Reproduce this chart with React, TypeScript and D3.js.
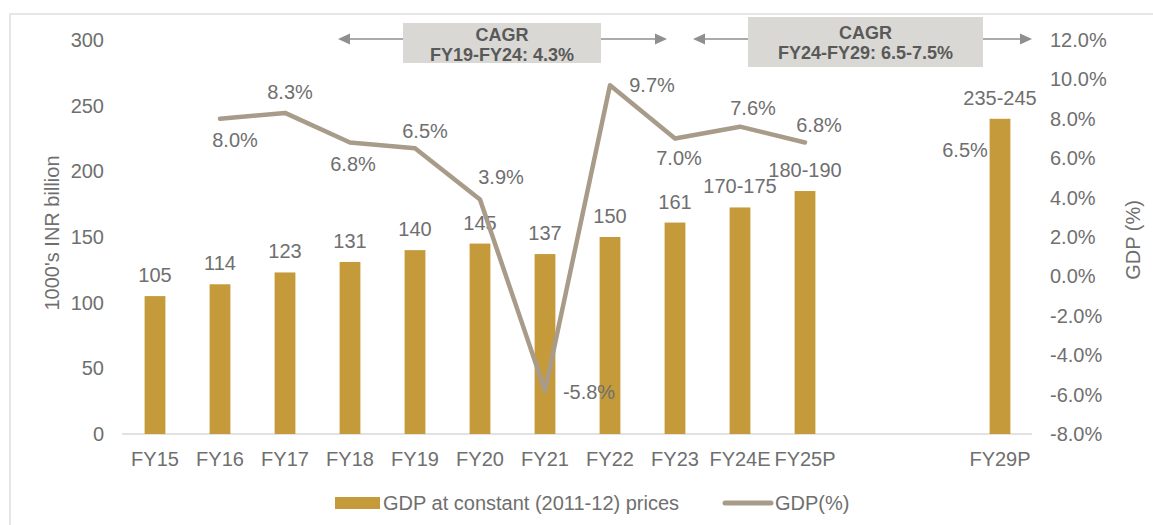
import React from "react";
import * as d3 from "d3";

// ---------- data ----------
const categories = ["FY15", "FY16", "FY17", "FY18", "FY19", "FY20", "FY21", "FY22", "FY23", "FY24E", "FY25P", "", "", "FY29P"];
const gdpValues: (number | null)[] = [105, 114, 123, 131, 140, 145, 137, 150, 161, 172.5, 185, null, null, 240];
const gdpLabels: string[] = ["105", "114", "123", "131", "140", "145", "137", "150", "161", "170-175", "180-190", "", "", "235-245"];
const growthValues: (number | null)[] = [null, 8.0, 8.3, 6.8, 6.5, 3.9, -5.8, 9.7, 7.0, 7.6, 6.8, null, null, 6.5];
const growthLabels: string[] = ["", "8.0%", "8.3%", "6.8%", "6.5%", "3.9%", "-5.8%", "9.7%", "7.0%", "7.6%", "6.8%", "", "", "6.5%"];
const leftTicks = [0, 50, 100, 150, 200, 250, 300];
const rightTicks = [-8, -6, -4, -2, 0, 2, 4, 6, 8, 10, 12];
const cagrNotes = [
  { title: "CAGR", text: "FY19-FY24: 4.3%" },
  { title: "CAGR", text: "FY24-FY29: 6.5-7.5%" },
];
const legendItems = ["GDP at constant (2011-12) prices", "GDP(%)"];

// ---------- layout / styles ----------
const W = 1153;
const H = 525;
const BAR = "#c59a3a";
const LINE = "#a89b89";
const TXT = "#6f6f6f";
const DARK = "#595959";
const FONT = "'Liberation Sans', Arial, sans-serif";
// label offsets (dx, dy) of growth labels relative to their point
const growthLabelOffsets: [number, number][] = [
  [0, 0], [15, 21], [5, -21], [3, 22], [10, -17], [21, -23], [44, 1], [42, 0], [4, 19], [13, -19], [14, -17], [0, 0], [0, 0], [-35, 2],
];
// CAGR annotation geometry
const notesGeom = [
  { x0: 338, x1: 667, bx0: 403, bx1: 601, by0: 23, by1: 63, t1: 35, t2: 55 },
  { x0: 693, x1: 1032, bx0: 748, bx1: 983, by0: 17, by1: 67, t1: 33, t2: 53 },
];

export default function App() {
  const idx = categories.map((_, i) => String(i));
  const x = d3.scaleBand<string>().domain(idx).range([122.5, 1032.5]).paddingInner(0.68).paddingOuter(0.34);
  const yL = d3.scaleLinear().domain([0, 300]).range([434, 40]);
  const yR = d3.scaleLinear().domain([-8, 12]).range([434, 40]);
  const cx = (i: number) => (x(String(i)) as number) + x.bandwidth() / 2;

  const linePts: [number, number][] = [];
  growthValues.forEach((v, i) => {
    if (v != null && i <= 10) linePts.push([cx(i), yR(v)]);
  });
  const linePath = d3.line()(linePts) || "";

  const arrowHead = (tipX: number, y: number, dir: number) => {
    const len = 12;
    const half = 5.5;
    return `M${tipX},${y} L${tipX - dir * len},${y - half} L${tipX - dir * len},${y + half} Z`;
  };

  return (
    <div style={{ position: "absolute", left: 0, top: 0 }}>
      <svg width={W} height={H} style={{ display: "block", fontFamily: FONT }}>
        <rect x={0} y={0} width={W} height={H} fill="#ffffff" />
        {/* frame */}
        <line x1={9} y1={14} x2={W} y2={14} stroke="#e6e6e6" strokeWidth={2} />
        <line x1={10} y1={14} x2={10} y2={H} stroke="#e6e6e6" strokeWidth={2} />

        {/* baseline */}
        <line x1={122} x2={1032} y1={yL(0)} y2={yL(0)} stroke="#d9d9d9" strokeWidth={1.5} />

        {/* bars */}
        {gdpValues.map((v, i) =>
          v == null ? null : (
            <rect key={"b" + i} x={x(String(i))} y={yL(v)} width={x.bandwidth()} height={yL(0) - yL(v)} fill={BAR} />
          )
        )}
        {gdpValues.map((v, i) =>
          v == null ? null : (
            <text key={"bl" + i} x={cx(i)} y={yL(v) - 21} textAnchor="middle" dominantBaseline="central" fontSize={20} fill={TXT}>
              {gdpLabels[i]}
            </text>
          )
        )}

        {/* line */}
        <path d={linePath} fill="none" stroke={LINE} strokeWidth={4.5} strokeLinejoin="round" strokeLinecap="round" />
        {growthValues.map((v, i) =>
          v == null ? null : (
            <text
              key={"gl" + i}
              x={cx(i) + growthLabelOffsets[i][0]}
              y={yR(v) + growthLabelOffsets[i][1]}
              textAnchor="middle"
              dominantBaseline="central"
              fontSize={20}
              fill={TXT}
            >
              {growthLabels[i]}
            </text>
          )
        )}

        {/* x axis labels */}
        {categories.map((c, i) => (
          <text key={"x" + i} x={cx(i)} y={459} textAnchor="middle" dominantBaseline="central" fontSize={20} fill={TXT}>
            {c}
          </text>
        ))}

        {/* left axis */}
        {leftTicks.map((t) => (
          <text key={"l" + t} x={104} y={yL(t)} textAnchor="end" dominantBaseline="central" fontSize={20} fill={TXT}>
            {t}
          </text>
        ))}
        <text
          transform={`translate(52,233) rotate(-90)`}
          textAnchor="middle"
          dominantBaseline="central"
          fontSize={20}
          fill={TXT}
        >
          1000's INR billion
        </text>

        {/* right axis */}
        {rightTicks.map((t) => (
          <text key={"r" + t} x={1050} y={yR(t)} textAnchor="start" dominantBaseline="central" fontSize={20} fill={TXT}>
            {t.toFixed(1) + "%"}
          </text>
        ))}
        <text
          transform={`translate(1133,240) rotate(-90)`}
          textAnchor="middle"
          dominantBaseline="central"
          fontSize={20}
          fill={TXT}
        >
          GDP (%)
        </text>

        {/* CAGR annotations */}
        {cagrNotes.map((n, i) => {
          const g = notesGeom[i];
          const ay = 39;
          return (
            <g key={"n" + i}>
              <line x1={g.x0 + 10} x2={g.x1 - 10} y1={ay} y2={ay} stroke="#8f8f8f" strokeWidth={1.5} />
              <path d={arrowHead(g.x0, ay, -1)} fill="#8f8f8f" />
              <path d={arrowHead(g.x1, ay, 1)} fill="#8f8f8f" />
              <rect x={g.bx0} y={g.by0} width={g.bx1 - g.bx0} height={g.by1 - g.by0} fill="#d9d8d4" />
              <text x={(g.bx0 + g.bx1) / 2} y={g.t1} textAnchor="middle" dominantBaseline="central" fontSize={18} fontWeight="bold" fill={DARK}>
                {n.title}
              </text>
              <text x={(g.bx0 + g.bx1) / 2} y={g.t2} textAnchor="middle" dominantBaseline="central" fontSize={18} fontWeight="bold" fill={DARK}>
                {n.text}
              </text>
            </g>
          );
        })}

        {/* legend */}
        <rect x={335} y={497} width={45} height={12} fill={BAR} />
        <text x={383} y={503} dominantBaseline="central" fontSize={20} fill={TXT}>
          {legendItems[0]}
        </text>
        <line x1={725} x2={771} y1={503} y2={503} stroke={LINE} strokeWidth={5} strokeLinecap="round" />
        <text x={775} y={503} dominantBaseline="central" fontSize={20} fill={TXT}>
          {legendItems[1]}
        </text>
      </svg>
    </div>
  );
}
